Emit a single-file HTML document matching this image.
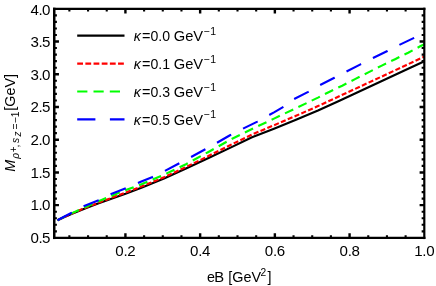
<!DOCTYPE html>
<html><head><meta charset="utf-8"><title>plot</title>
<style>html,body{margin:0;padding:0;background:#fff;}body{width:436px;height:286px;overflow:hidden;}svg{display:block;will-change:transform;}text{font-family:"Liberation Sans",sans-serif;fill:#000;}</style>
</head><body>
<svg width="436" height="286" viewBox="0 0 436 286">
<rect x="0" y="0" width="436" height="286" fill="#fff"/>
<clipPath id="c"><rect x="54.25" y="8.8" width="370.05" height="229.10"/></clipPath>
<g clip-path="url(#c)" fill="none" stroke-width="2.15" stroke-linejoin="round">
<path d="M57.5,220.3 L64.0,217.2 L72.0,213.8 L85.0,208.5 L98.0,203.6 L125.5,193.8 L142.0,187.5 L164.0,178.6 L186.0,168.4 L208.0,158.3 L230.0,147.9 L252.0,137.2 L274.0,128.7 L296.0,119.8 L318.0,110.6 L340.0,100.5 L362.0,90.3 L384.0,80.1 L406.0,69.8 L424.4,61.2" stroke="#000"/>
<path d="M57.5,220.3 L64.0,217.1 L72.0,213.5 L85.0,208.0 L98.0,202.9 L125.5,192.6 L142.0,186.2 L164.0,177.3 L186.0,167.0 L208.0,156.2 L230.0,145.2 L252.0,134.5 L274.0,125.2 L296.0,115.8 L318.0,106.1 L340.0,95.9 L362.0,85.7 L384.0,75.5 L406.0,65.2 L424.4,56.6" stroke="#f00" stroke-dasharray="5.1 2.3"/>
<path d="M57.5,220.3 L64.0,216.9 L72.0,213.1 L85.0,207.2 L98.0,201.5 L120.0,192.3 L142.0,184.0 L164.0,174.7 L186.0,164.2 L208.0,152.2 L230.0,139.9 L252.0,129.0 L274.0,118.6 L296.0,108.2 L318.0,97.6 L328.6,92.2 L342.2,85.7 L355.5,78.9 L368.4,72.4 L381.8,65.6 L395.1,59.2 L408.2,52.7 L420.2,46.3 L424.4,44.2" stroke="#0f0" stroke-dasharray="9.1 5.7"/>
<path d="M57.5,220.3 L64.0,216.7 L71.7,212.7 L82.9,206.6 L98.0,200.4 L110.2,194.3 L125.9,188.3 L137.6,183.2 L142.0,181.2 L152.6,176.9 L164.4,171.2 L179.5,163.1 L190.6,157.3 L205.3,149.3 L216.9,142.8 L230.0,135.2 L242.7,128.8 L257.4,121.6 L269.6,114.8 L274.0,112.4 L283.5,106.8 L293.9,99.2 L308.2,91.9 L320.0,85.0 L334.4,77.8 L346.4,71.5 L360.0,64.6 L373.0,58.0 L387.4,51.0 L399.3,44.9 L414.1,37.9 L424.4,33.2" stroke="#00f" stroke-dasharray="16.3 13.3"/>
</g>
<g stroke="#000" fill="none"><path d="M54.25,7.700 V239.075" stroke-width="2.5"/><path d="M424.3,7.700 V239.075" stroke-width="2.2"/><path d="M53.000,8.8 H425.400" stroke-width="2.2"/><path d="M53.000,237.9 H425.400" stroke-width="2.35"/></g>
<g stroke="#000" fill="none"><path d="M69.38,237.9 v-2.65M69.38,8.8 v2.65" stroke-width="2.1" stroke-linecap="butt"/><path d="M88.06,237.9 v-2.65M88.06,8.8 v2.65" stroke-width="2.1" stroke-linecap="butt"/><path d="M106.74,237.9 v-2.65M106.74,8.8 v2.65" stroke-width="2.1" stroke-linecap="butt"/><path d="M125.42,237.9 v-4.7M125.42,8.8 v4.7" stroke-width="2.4" stroke-linecap="butt"/><path d="M144.10,237.9 v-2.65M144.10,8.8 v2.65" stroke-width="2.1" stroke-linecap="butt"/><path d="M162.78,237.9 v-2.65M162.78,8.8 v2.65" stroke-width="2.1" stroke-linecap="butt"/><path d="M181.46,237.9 v-2.65M181.46,8.8 v2.65" stroke-width="2.1" stroke-linecap="butt"/><path d="M200.14,237.9 v-4.7M200.14,8.8 v4.7" stroke-width="2.4" stroke-linecap="butt"/><path d="M218.82,237.9 v-2.65M218.82,8.8 v2.65" stroke-width="2.1" stroke-linecap="butt"/><path d="M237.50,237.9 v-2.65M237.50,8.8 v2.65" stroke-width="2.1" stroke-linecap="butt"/><path d="M256.18,237.9 v-2.65M256.18,8.8 v2.65" stroke-width="2.1" stroke-linecap="butt"/><path d="M274.86,237.9 v-4.7M274.86,8.8 v4.7" stroke-width="2.4" stroke-linecap="butt"/><path d="M293.54,237.9 v-2.65M293.54,8.8 v2.65" stroke-width="2.1" stroke-linecap="butt"/><path d="M312.22,237.9 v-2.65M312.22,8.8 v2.65" stroke-width="2.1" stroke-linecap="butt"/><path d="M330.90,237.9 v-2.65M330.90,8.8 v2.65" stroke-width="2.1" stroke-linecap="butt"/><path d="M349.58,237.9 v-4.7M349.58,8.8 v4.7" stroke-width="2.4" stroke-linecap="butt"/><path d="M368.26,237.9 v-2.65M368.26,8.8 v2.65" stroke-width="2.1" stroke-linecap="butt"/><path d="M386.94,237.9 v-2.65M386.94,8.8 v2.65" stroke-width="2.1" stroke-linecap="butt"/><path d="M405.62,237.9 v-2.65M405.62,8.8 v2.65" stroke-width="2.1" stroke-linecap="butt"/><path d="M54.25,231.35 h2.65M424.3,231.35 h-2.65" stroke-width="2.1" stroke-linecap="butt"/><path d="M54.25,224.81 h2.65M424.3,224.81 h-2.65" stroke-width="2.1" stroke-linecap="butt"/><path d="M54.25,218.26 h2.65M424.3,218.26 h-2.65" stroke-width="2.1" stroke-linecap="butt"/><path d="M54.25,211.72 h2.65M424.3,211.72 h-2.65" stroke-width="2.1" stroke-linecap="butt"/><path d="M54.25,205.17 h4.7M424.3,205.17 h-4.7" stroke-width="2.4" stroke-linecap="butt"/><path d="M54.25,198.63 h2.65M424.3,198.63 h-2.65" stroke-width="2.1" stroke-linecap="butt"/><path d="M54.25,192.08 h2.65M424.3,192.08 h-2.65" stroke-width="2.1" stroke-linecap="butt"/><path d="M54.25,185.53 h2.65M424.3,185.53 h-2.65" stroke-width="2.1" stroke-linecap="butt"/><path d="M54.25,178.99 h2.65M424.3,178.99 h-2.65" stroke-width="2.1" stroke-linecap="butt"/><path d="M54.25,172.44 h4.7M424.3,172.44 h-4.7" stroke-width="2.4" stroke-linecap="butt"/><path d="M54.25,165.90 h2.65M424.3,165.90 h-2.65" stroke-width="2.1" stroke-linecap="butt"/><path d="M54.25,159.35 h2.65M424.3,159.35 h-2.65" stroke-width="2.1" stroke-linecap="butt"/><path d="M54.25,152.81 h2.65M424.3,152.81 h-2.65" stroke-width="2.1" stroke-linecap="butt"/><path d="M54.25,146.26 h2.65M424.3,146.26 h-2.65" stroke-width="2.1" stroke-linecap="butt"/><path d="M54.25,139.71 h4.7M424.3,139.71 h-4.7" stroke-width="2.4" stroke-linecap="butt"/><path d="M54.25,133.17 h2.65M424.3,133.17 h-2.65" stroke-width="2.1" stroke-linecap="butt"/><path d="M54.25,126.62 h2.65M424.3,126.62 h-2.65" stroke-width="2.1" stroke-linecap="butt"/><path d="M54.25,120.08 h2.65M424.3,120.08 h-2.65" stroke-width="2.1" stroke-linecap="butt"/><path d="M54.25,113.53 h2.65M424.3,113.53 h-2.65" stroke-width="2.1" stroke-linecap="butt"/><path d="M54.25,106.99 h4.7M424.3,106.99 h-4.7" stroke-width="2.4" stroke-linecap="butt"/><path d="M54.25,100.44 h2.65M424.3,100.44 h-2.65" stroke-width="2.1" stroke-linecap="butt"/><path d="M54.25,93.89 h2.65M424.3,93.89 h-2.65" stroke-width="2.1" stroke-linecap="butt"/><path d="M54.25,87.35 h2.65M424.3,87.35 h-2.65" stroke-width="2.1" stroke-linecap="butt"/><path d="M54.25,80.80 h2.65M424.3,80.80 h-2.65" stroke-width="2.1" stroke-linecap="butt"/><path d="M54.25,74.26 h4.7M424.3,74.26 h-4.7" stroke-width="2.4" stroke-linecap="butt"/><path d="M54.25,67.71 h2.65M424.3,67.71 h-2.65" stroke-width="2.1" stroke-linecap="butt"/><path d="M54.25,61.17 h2.65M424.3,61.17 h-2.65" stroke-width="2.1" stroke-linecap="butt"/><path d="M54.25,54.62 h2.65M424.3,54.62 h-2.65" stroke-width="2.1" stroke-linecap="butt"/><path d="M54.25,48.07 h2.65M424.3,48.07 h-2.65" stroke-width="2.1" stroke-linecap="butt"/><path d="M54.25,41.53 h4.7M424.3,41.53 h-4.7" stroke-width="2.4" stroke-linecap="butt"/><path d="M54.25,34.98 h2.65M424.3,34.98 h-2.65" stroke-width="2.1" stroke-linecap="butt"/><path d="M54.25,28.44 h2.65M424.3,28.44 h-2.65" stroke-width="2.1" stroke-linecap="butt"/><path d="M54.25,21.89 h2.65M424.3,21.89 h-2.65" stroke-width="2.1" stroke-linecap="butt"/><path d="M54.25,15.35 h2.65M424.3,15.35 h-2.65" stroke-width="2.1" stroke-linecap="butt"/></g>
<g font-size="15.1px" letter-spacing="-0.3">
<text x="50.0" y="242.70" text-anchor="end" letter-spacing="-0.5">0.5</text>
<text x="50.0" y="210.10" text-anchor="end" letter-spacing="-0.5">1.0</text>
<text x="50.0" y="177.50" text-anchor="end" letter-spacing="-0.5">1.5</text>
<text x="50.0" y="144.90" text-anchor="end" letter-spacing="-0.5">2.0</text>
<text x="50.0" y="112.30" text-anchor="end" letter-spacing="-0.5">2.5</text>
<text x="50.0" y="79.70" text-anchor="end" letter-spacing="-0.5">3.0</text>
<text x="50.0" y="47.10" text-anchor="end" letter-spacing="-0.5">3.5</text>
<text x="50.0" y="14.50" text-anchor="end" letter-spacing="-0.5">4.0</text>
<text x="125.42" y="256.0" text-anchor="middle">0.2</text>
<text x="200.14" y="256.0" text-anchor="middle">0.4</text>
<text x="274.86" y="256.0" text-anchor="middle">0.6</text>
<text x="349.58" y="256.0" text-anchor="middle">0.8</text>
<text x="424.30" y="256.0" text-anchor="middle">1.0</text>
</g>
<text y="281.6" font-size="14.3px"><tspan x="207.0">e</tspan><tspan x="214.3" font-size="14.8px">B</tspan><tspan x="228.2" font-size="14.4px">[GeV</tspan><tspan x="260.4" font-size="10.2px" dy="-5.9">2</tspan><tspan x="267.4" dy="5.9" font-size="14.4px">]</tspan></text>
<g transform="translate(14.5,171.2) rotate(-90)">
<text x="-0.45" y="0" font-size="14.4px" font-style="italic">M</text><text x="12.55" y="4.4" font-size="10.3px" font-style="italic">ρ</text><text x="18.9" y="2.4" font-size="10px">+</text><text x="23.6" y="4.4" font-size="10.3px">,</text><text x="28.3" y="4.4" font-size="10.3px" font-style="italic">s</text><text x="34.66" y="6.2" font-size="10px" font-style="italic">z</text><text x="41.7" y="4.4" font-size="10.3px">=</text><text x="47.9" y="4.4" font-size="10.3px">−</text><text x="53.9" y="4.4" font-size="10.3px">1</text><text x="60.4" y="0.5" font-size="14.4px">[GeV]</text>
</g>
<g fill="none" stroke-width="2.2">
<path d="M77.2,35.65 H124.5" stroke="#000"/>
<path d="M77.2,63.6 H124.5" stroke="#f00" stroke-dasharray="5.8 2.37"/>
<path d="M77.2,91.5 H124.5" stroke="#0f0" stroke-dasharray="10.2 6.1"/>
<path d="M77.2,119.3 H124.5" stroke="#00f" stroke-dasharray="18.2 14.5"/>
</g>
<text y="41.4" font-size="14.1px"><tspan x="133.86" font-style="italic" font-size="14.3px">κ</tspan><tspan x="142.1" font-size="14.5px">=</tspan><tspan x="150.45" letter-spacing="0.07">0.0</tspan><tspan x="173.75" font-size="14.7px">GeV</tspan><tspan x="203.6" font-size="10.5px" dy="-6.7">−</tspan><tspan x="210.3" font-size="10.5px">1</tspan></text>
<text y="69.4" font-size="14.1px"><tspan x="133.86" font-style="italic" font-size="14.3px">κ</tspan><tspan x="142.1" font-size="14.5px">=</tspan><tspan x="150.45" letter-spacing="0.07">0.1</tspan><tspan x="173.75" font-size="14.7px">GeV</tspan><tspan x="203.6" font-size="10.5px" dy="-6.7">−</tspan><tspan x="210.3" font-size="10.5px">1</tspan></text>
<text y="97.3" font-size="14.1px"><tspan x="133.86" font-style="italic" font-size="14.3px">κ</tspan><tspan x="142.1" font-size="14.5px">=</tspan><tspan x="150.45" letter-spacing="0.07">0.3</tspan><tspan x="173.75" font-size="14.7px">GeV</tspan><tspan x="203.6" font-size="10.5px" dy="-6.7">−</tspan><tspan x="210.3" font-size="10.5px">1</tspan></text>
<text y="125.1" font-size="14.1px"><tspan x="133.86" font-style="italic" font-size="14.3px">κ</tspan><tspan x="142.1" font-size="14.5px">=</tspan><tspan x="150.45" letter-spacing="0.07">0.5</tspan><tspan x="173.75" font-size="14.7px">GeV</tspan><tspan x="203.6" font-size="10.5px" dy="-6.7">−</tspan><tspan x="210.3" font-size="10.5px">1</tspan></text>
</svg>
</body></html>
